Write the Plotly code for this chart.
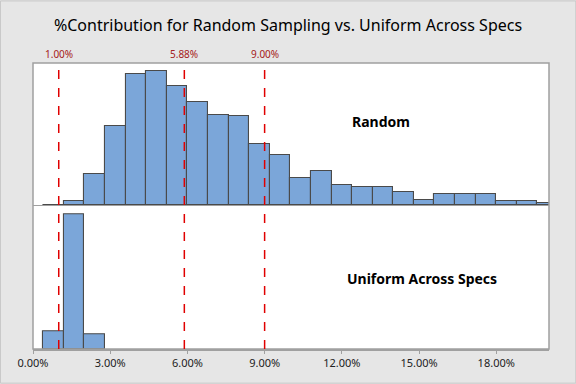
import plotly.graph_objects as go

# ---- data ----
bin_centers = [0.8, 1.6, 2.4, 3.2, 4.0, 4.8, 5.6, 6.4, 7.2, 8.0, 8.8, 9.6, 10.4,
               11.2, 12.0, 12.8, 13.6, 14.4, 15.2, 16.0, 16.8, 17.6, 18.4, 19.2, 20.0]
random_freq = [0, 4, 31, 79, 132, 135, 120, 104, 90, 89, 61, 50, 27,
               34, 20, 18, 18, 13, 5, 11, 11, 11, 4, 4, 2]
uniform_centers = [0.8, 1.6, 2.4]
uniform_freq = [18, 135, 15]
bin_width = 0.8

ref_lines = [1.00, 5.88, 9.00]
ref_labels = ["1.00%", "5.88%", "9.00%"]

tick_vals = [0, 3, 6, 9, 12, 15, 18]
tick_text = ["0.00%", "3.00%", "6.00%", "9.00%", "12.00%", "15.00%", "18.00%"]

title_text = "%Contribution for Random Sampling vs. Uniform Across Specs"
panel_labels = ["Random", "Uniform Across Specs"]

# ---- styling ----
BAR_FILL = "#7BA6D9"
BAR_LINE = "#4A4A4A"
FRAME = "#A0A0A0"
BG = "#E6E6E6"
FONT = "Noto Sans"

fig = go.Figure()

fig.add_trace(go.Bar(x=bin_centers, y=random_freq, width=bin_width,
                     marker=dict(color=BAR_FILL, line=dict(color=BAR_LINE, width=1.1)),
                     xaxis="x2", yaxis="y2", showlegend=False, hoverinfo="skip"))
fig.add_trace(go.Bar(x=uniform_centers, y=uniform_freq, width=bin_width,
                     marker=dict(color=BAR_FILL, line=dict(color=BAR_LINE, width=1.1)),
                     xaxis="x", yaxis="y", showlegend=False, hoverinfo="skip"))

split = 144 / 286.6
xr = [0, 20.05]

fig.update_layout(
    width=576, height=384,
    margin=dict(l=33, r=27.3, t=62.7, b=34.7),
    paper_bgcolor=BG, plot_bgcolor="white",
    font=dict(family=FONT, color="#222222"),
    bargap=0,
    xaxis=dict(domain=[0, 1], range=xr, tickvals=tick_vals, ticktext=tick_text,
               showline=True, linecolor=FRAME, linewidth=1.5, ticks="outside",
               ticklen=3, tickcolor=FRAME, showgrid=False, zeroline=False,
               tickfont=dict(size=11, color="#222222"), anchor="y"),
    yaxis=dict(domain=[0, split], range=[0, 144], visible=False, fixedrange=True),
    xaxis2=dict(domain=[0, 1], range=xr, matches="x", showticklabels=False,
                showline=True, linecolor=FRAME, linewidth=1, ticks="",
                showgrid=False, zeroline=False, anchor="y2"),
    yaxis2=dict(domain=[split, 1], range=[0, 142.6], visible=False, fixedrange=True),
    title=dict(text=title_text, x=0.5, xanchor="center", y=1 - 25 / 384,
               yanchor="middle", font=dict(size=16, color="#000000", family=FONT)),
)

shapes = []
# plot frame
shapes.append(dict(type="rect", xref="paper", yref="paper", x0=0, x1=1, y0=0, y1=1,
                   line=dict(color=FRAME, width=1.5), fillcolor="rgba(0,0,0,0)",
                   layer="above"))
# reference lines
for v in ref_lines:
    shapes.append(dict(type="line", xref="x", yref="paper", x0=v, x1=v,
                       y0=0, y1=0.992, line=dict(color="#E00000", width=1.5, dash="dash"),
                       layer="above"))
# outer border
shapes.append(dict(type="rect", xref="paper", yref="paper",
                   x0=-32.5 / 515.7, x1=1 + 26.8 / 515.7, y0=-34.2 / 286.6, y1=1 + 62.2 / 286.6,
                   line=dict(color="#C8C8C8", width=1), fillcolor="rgba(0,0,0,0)"))
fig.update_layout(shapes=shapes)

annotations = []
for v, t in zip(ref_lines, ref_labels):
    annotations.append(dict(x=v, xref="x", y=(349.3 - 54) / 286.6, yref="paper",
                            text=t, showarrow=False, xanchor="center", yanchor="middle",
                            font=dict(size=10, color="#A52020", family=FONT)))
annotations.append(dict(x=13.54, xref="x2", y=83.6, yref="y2", text=panel_labels[0],
                        showarrow=False, font=dict(size=14, color="#000000", family=FONT),
                        xanchor="center", yanchor="middle"))
annotations.append(dict(x=15.12, xref="x", y=70.3, yref="y", text=panel_labels[1],
                        showarrow=False, font=dict(size=14, color="#000000", family=FONT),
                        xanchor="center", yanchor="middle"))
fig.update_layout(annotations=annotations)
fig.update_annotations(font_weight="bold", selector=dict(text="Random"))
fig.update_annotations(font_weight="bold", selector=dict(text="Uniform Across Specs"))

fig.write_html("out.html", config={"displayModeBar": False},
               post_script="document.body.style.margin='0';document.body.style.overflow='hidden';")
